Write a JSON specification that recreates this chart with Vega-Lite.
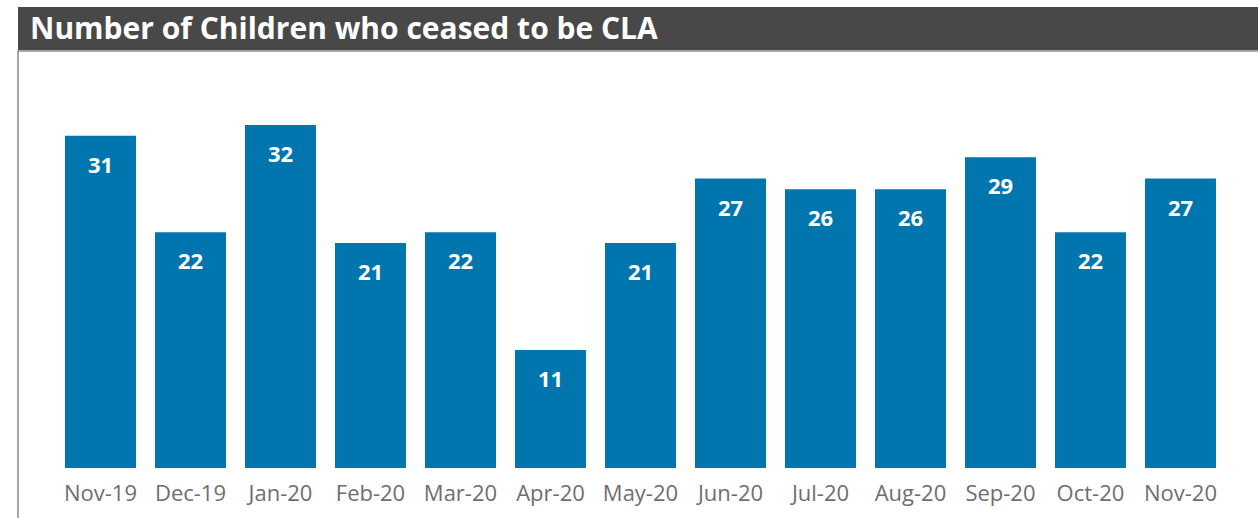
{
  "$schema": "https://vega.github.io/schema/vega-lite/v6.json",
  "padding": {"top": 7, "left": 17, "right": 0, "bottom": 0},
  "background": "white",
  "spacing": 0,
  "config": {"concat": {"spacing": 0}},
  "datasets": {
    "cla": [
      {"month": "Nov-19", "count": 31},
      {"month": "Dec-19", "count": 22},
      {"month": "Jan-20", "count": 32},
      {"month": "Feb-20", "count": 21},
      {"month": "Mar-20", "count": 22},
      {"month": "Apr-20", "count": 11},
      {"month": "May-20", "count": 21},
      {"month": "Jun-20", "count": 27},
      {"month": "Jul-20", "count": 26},
      {"month": "Aug-20", "count": 26},
      {"month": "Sep-20", "count": 29},
      {"month": "Oct-20", "count": 22},
      {"month": "Nov-20", "count": 27}
    ]
  },
  "vconcat": [
    {
      "width": 1241,
      "height": 43,
      "view": {"fill": "#484848", "stroke": null},
      "data": {"values": [{"title": "Number of Children who ceased to be CLA", "pos": 0}]},
      "mark": {
        "type": "text",
        "align": "left",
        "baseline": "middle",
        "dx": 12,
        "dy": 1,
        "font": "Open Sans",
        "fontSize": 30,
        "fontWeight": "bold",
        "color": "white"
      },
      "encoding": {
        "x": {"field": "pos", "type": "quantitative", "scale": {"domain": [0, 1]}, "axis": null},
        "text": {"field": "title", "type": "nominal"}
      }
    },
    {
      "width": 1241,
      "height": 469,
      "view": {"fill": "white", "stroke": "#8a8a8a", "strokeWidth": 1.5},
      "data": {"name": "cla"},
      "encoding": {
        "x": {
          "field": "month",
          "type": "nominal",
          "sort": null,
          "scale": {"paddingInner": 0.211, "paddingOuter": 0.5, "align": 0.522},
          "axis": {
            "title": null,
            "orient": "bottom",
            "offset": -52,
            "domain": false,
            "ticks": false,
            "tickSize": 0,
            "labelPadding": 15,
            "labelAngle": 0,
            "labelFont": "Open Sans",
            "labelFontSize": 22,
            "labelColor": "#6E6E6E",
            "grid": false
          }
        },
        "y": {
          "field": "count",
          "type": "quantitative",
          "scale": {"domain": [-4.85, 38.9], "nice": false, "zero": true},
          "axis": null
        }
      },
      "layer": [
        {"mark": {"type": "bar", "color": "#0176AE"}},
        {
          "mark": {
            "type": "text",
            "baseline": "middle",
            "dy": 30,
            "font": "Open Sans",
            "fontSize": 22,
            "fontWeight": "bold",
            "color": "white"
          },
          "encoding": {"text": {"field": "count", "type": "quantitative"}}
        }
      ]
    }
  ]
}
